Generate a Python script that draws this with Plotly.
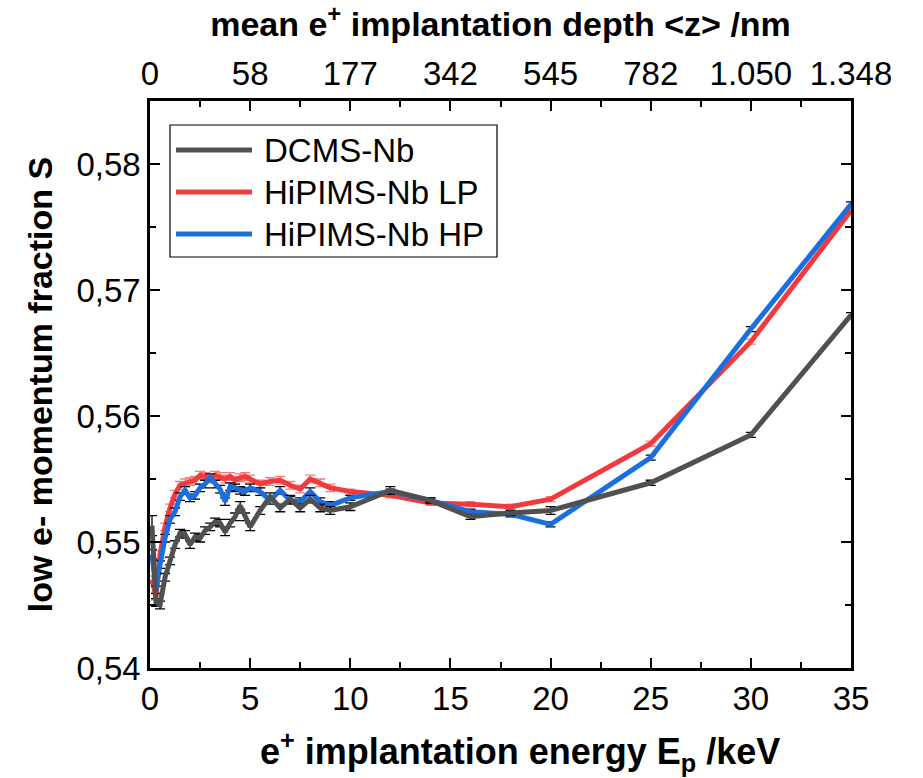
import plotly.graph_objects as go

energy = [0.1, 0.3, 0.5, 0.75, 1.0, 1.25, 1.5, 1.75, 2.0, 2.25, 2.5, 2.75, 3.0, 3.25, 3.5, 3.75,
          4.0, 4.25, 4.5, 4.75, 5.0, 5.5, 6.0, 6.5, 7.0, 7.5, 8.0, 8.5, 9.0, 10, 12, 14, 16, 18, 20,
          25, 30, 35]

s_dcms = [0.5513, 0.5452, 0.5450, 0.5472, 0.5485, 0.5498, 0.5507, 0.5506, 0.5498, 0.5504,
          0.5503, 0.5509, 0.5512, 0.5516, 0.5515, 0.5508, 0.5515, 0.5520, 0.5529, 0.5520,
          0.5512, 0.5525, 0.5536, 0.5527, 0.5534, 0.5527, 0.5534, 0.5527, 0.5525,
          0.5528, 0.5541, 0.5533, 0.5520, 0.5523, 0.5525,
          0.5547, 0.5585, 0.5680]
err_dcms = [0.0008, 0.0003, 0.0003, 0.0003, 0.0003, 0.0003, 0.0003, 0.0003, 0.0003, 0.0003,
            0.0003, 0.0003, 0.0003, 0.0003, 0.0003, 0.0003, 0.0003, 0.0003, 0.0003, 0.0003,
            0.0003, 0.0003, 0.0003, 0.0003, 0.0003, 0.0003, 0.0003, 0.0003, 0.0003,
            0.0003, 0.0003, 0.0002, 0.0002, 0.0002, 0.0003,
            0.0002, 0.0002, 0.0002]

s_lp = [0.5470, 0.5457, 0.5490, 0.5512, 0.5527, 0.5538, 0.5545, 0.5547, 0.5548, 0.5549,
        0.5553, 0.5552, 0.5550, 0.5553, 0.5552, 0.5550, 0.5552, 0.5549, 0.5551, 0.5552,
        0.5550, 0.5546, 0.5548, 0.5549, 0.5545, 0.5542, 0.5550, 0.5547, 0.5543,
        0.5540, 0.5537, 0.5531, 0.5530, 0.5528, 0.5534,
        0.5578, 0.5659, 0.5763]
err_lp = [0.0003, 0.0003, 0.0003, 0.0003, 0.0003, 0.0003, 0.0003, 0.0003, 0.0003, 0.0003,
          0.0003, 0.0003, 0.0003, 0.0003, 0.0003, 0.0003, 0.0003, 0.0003, 0.0003, 0.0003,
          0.0003, 0.0003, 0.0003, 0.0003, 0.0003, 0.0003, 0.0003, 0.0003, 0.0003,
          0.0002, 0.0002, 0.0002, 0.0002, 0.0002, 0.0002,
          0.0002, 0.0002, 0.0002]

s_hp = [0.5490, 0.5462, 0.5482, 0.5503, 0.5518, 0.5524, 0.5536, 0.5541, 0.5535, 0.5537,
        0.5543, 0.5546, 0.5551, 0.5546, 0.5542, 0.5532, 0.5544, 0.5543, 0.5541, 0.5540,
        0.5543, 0.5540, 0.5533, 0.5541, 0.5533, 0.5532, 0.5540, 0.5532, 0.5529,
        0.5535, 0.5540, 0.5533, 0.5524, 0.5522, 0.5514,
        0.5567, 0.5669, 0.5768]
err_hp = [0.0004, 0.0003, 0.0003, 0.0003, 0.0003, 0.0003, 0.0003, 0.0003, 0.0003, 0.0003,
          0.0003, 0.0003, 0.0003, 0.0003, 0.0003, 0.0003, 0.0003, 0.0003, 0.0003, 0.0003,
          0.0003, 0.0003, 0.0003, 0.0003, 0.0003, 0.0003, 0.0003, 0.0003, 0.0003,
          0.0002, 0.0002, 0.0002, 0.0002, 0.0002, 0.0002,
          0.0002, 0.0002, 0.0002]

top_tickvals = [0, 5, 10, 15, 20, 25, 30, 35]
top_ticktext = ["0", "58", "177", "342", "545", "782", "1.050", "1.348"]

series_names = ["DCMS-Nb", "HiPIMS-Nb LP", "HiPIMS-Nb HP"]
series_colors = ["#505050", "#F03A3D", "#1A6FE0"]
errbar_colors = ["#000000", "#F57A7C", "#000000"]

x_title = "<b>e<sup>+</sup> implantation energy E<sub>p</sub> /keV</b>"
x2_title = "<b>mean e<sup>+</sup> implantation depth &lt;z&gt; /nm</b>"
y_title = "<b>low e- momentum fraction S</b>"

FONT = "Liberation Sans, Arial, sans-serif"
TICK = 33

fig = go.Figure()

order = [1, 2, 0]
data = [(s_dcms, err_dcms), (s_lp, err_lp), (s_hp, err_hp)]
for i in order:
    s, e = data[i]
    fig.add_trace(go.Scatter(
        x=energy, y=s, mode="lines", name=series_names[i],
        line=dict(color=series_colors[i], width=5),
        error_y=dict(type="data", array=e, visible=True, color=errbar_colors[i],
                     thickness=1.3, width=5),
        showlegend=False,
    ))

# invisible trace to activate the top axis
fig.add_trace(go.Scatter(x=[0, 35], y=[0.54, 0.54], xaxis="x2", mode="markers",
                         marker=dict(opacity=0), showlegend=False, hoverinfo="skip"))

fig.update_layout(
    width=923, height=778,
    margin=dict(l=150, r=72, t=101, b=110),
    paper_bgcolor="white", plot_bgcolor="white",
    separators=",.",
    font=dict(family=FONT, size=27, color="black"),
    xaxis=dict(
        range=[0, 35], tickmode="linear", tick0=0, dtick=5,
        ticks="inside", ticklen=10, tickwidth=2, tickcolor="black",
        minor=dict(ticks="inside", dtick=2.5, tick0=0, ticklen=6, tickwidth=2, tickcolor="black"),
        showline=True, linewidth=2.5, linecolor="black", mirror=True,
        showgrid=False, zeroline=False,
        tickfont=dict(size=TICK),
    ),
    xaxis2=dict(
        overlaying="x", side="top", range=[0, 35],
        tickmode="array", tickvals=top_tickvals, ticktext=top_ticktext,
        ticks="inside", ticklen=10, tickwidth=2, tickcolor="black",
        minor=dict(ticks="inside", dtick=2.5, tick0=0, ticklen=6, tickwidth=2, tickcolor="black"),
        showline=True, linewidth=2.5, linecolor="black",
        showgrid=False, zeroline=False,
        tickfont=dict(size=TICK),
        title=dict(text=x2_title, font=dict(size=34), standoff=12),
    ),
    yaxis=dict(
        range=[0.54, 0.585], tickmode="linear", tick0=0.54, dtick=0.01, tickformat=".2f",
        ticks="inside", ticklen=10, tickwidth=2, tickcolor="black",
        minor=dict(ticks="inside", dtick=0.005, tick0=0.54, ticklen=6, tickwidth=2, tickcolor="black"),
        showline=True, linewidth=2.5, linecolor="black", mirror="ticks",
        showgrid=False, zeroline=False,
        tickfont=dict(size=TICK),
        title=dict(text=y_title, font=dict(size=34), standoff=14),
    ),
)

# helpers for paper coordinates of the fixed plot area
def px2x(px):
    return (px - 150) / 701.0

def py2y(py):
    return (668 - py) / 567.0

# bottom axis title (slightly right of centre, as in the reference)
fig.add_annotation(xref="paper", yref="paper", x=px2x(520), y=py2y(751),
                   text=x_title, showarrow=False, xanchor="center", yanchor="middle",
                   font=dict(size=36, color="black", family=FONT))

# manual legend
fig.add_shape(type="rect", xref="paper", yref="paper",
              x0=px2x(170), x1=px2x(497), y0=py2y(257), y1=py2y(125),
              line=dict(color="black", width=1.2), fillcolor="white", layer="above")
rows = [150, 192, 234]
for k in range(3):
    fig.add_shape(type="line", xref="paper", yref="paper",
                  x0=px2x(176), x1=px2x(252), y0=py2y(rows[k]), y1=py2y(rows[k]),
                  line=dict(color=series_colors[k], width=5), layer="above")
    fig.add_annotation(xref="paper", yref="paper", x=px2x(262), y=py2y(rows[k]),
                       text=series_names[k], showarrow=False, xanchor="left", yanchor="middle",
                       font=dict(size=33, color="black", family=FONT))

fig.write_html("out.html")
